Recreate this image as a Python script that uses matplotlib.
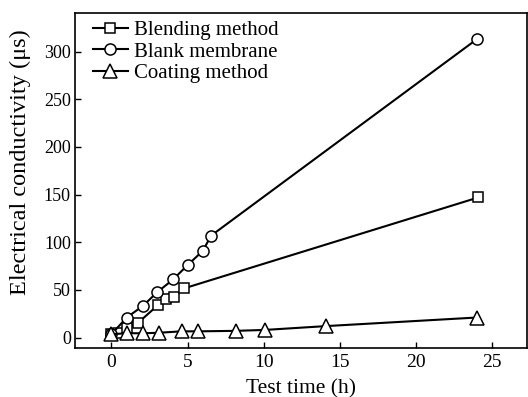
import matplotlib.pyplot as plt

# Blending method
blend_t = [0, 0.4, 1.0, 1.75, 3.05, 3.6, 4.1, 4.75, 24.1]
blend_c = [4, 5, 10.5, 15.5, 34, 40, 43, 51.5, 147]

# Blank membrane
blank_t = [0, 1.0, 2.05, 3.0, 4.05, 5.0, 6.0, 6.55, 24.0]
blank_c = [3.5, 21, 33, 47.5, 61, 76, 91, 107, 313]

# Coating method
coat_t = [0, 1.0, 2.1, 3.1, 4.6, 5.7, 8.15, 10.1, 14.1, 24.0]
coat_c = [3.5, 4.5, 4.5, 5, 6.5, 6.5, 7, 8, 12, 21]

plt.rcParams['font.family'] = ['Liberation Serif', 'DejaVu Serif']

fig = plt.figure(figsize=(5.28, 3.97), dpi=100)
ax = fig.add_axes([0.142, 0.1234, 0.856, 0.8436])

ax.plot(blend_t, blend_c, '-', color='black', lw=1.5, marker='s', ms=7.5,
        mfc='white', mec='black', mew=1.1, label='Blending method')
ax.plot(blank_t, blank_c, '-', color='black', lw=1.5, marker='o', ms=8,
        mfc='white', mec='black', mew=1.1, label='Blank membrane')
ax.plot(coat_t, coat_c, '-', color='black', lw=1.5, marker='^', ms=9.5,
        mfc='white', mec='black', mew=1.1, label='Coating method')

ax.set_xlim(-2.4, 27.3)
ax.set_ylim(-11, 340.5)
ax.set_xticks([0, 5, 10, 15, 20, 25])
ax.set_yticks([0, 50, 100, 150, 200, 250, 300])
ax.tick_params(direction='in', length=4, width=1)
ax.tick_params(axis='x', labelsize=14, pad=4)
ax.tick_params(axis='y', labelsize=13, pad=3)
for s in ax.spines.values():
    s.set_linewidth(1.2)

ax.set_xlabel('Test time (h)', fontsize=15.5, labelpad=6)
ax.set_ylabel('Electrical conductivity (μs)', fontsize=17.5)
ax.yaxis.set_label_coords(-0.097, 0.555)

ax.legend(loc='upper left', bbox_to_anchor=(0.039, 0.978), frameon=False,
          fontsize=15, handlelength=1.7, handletextpad=0.3,
          labelspacing=0.1, borderaxespad=0, borderpad=0)

fig.savefig('out.png', dpi=100)
